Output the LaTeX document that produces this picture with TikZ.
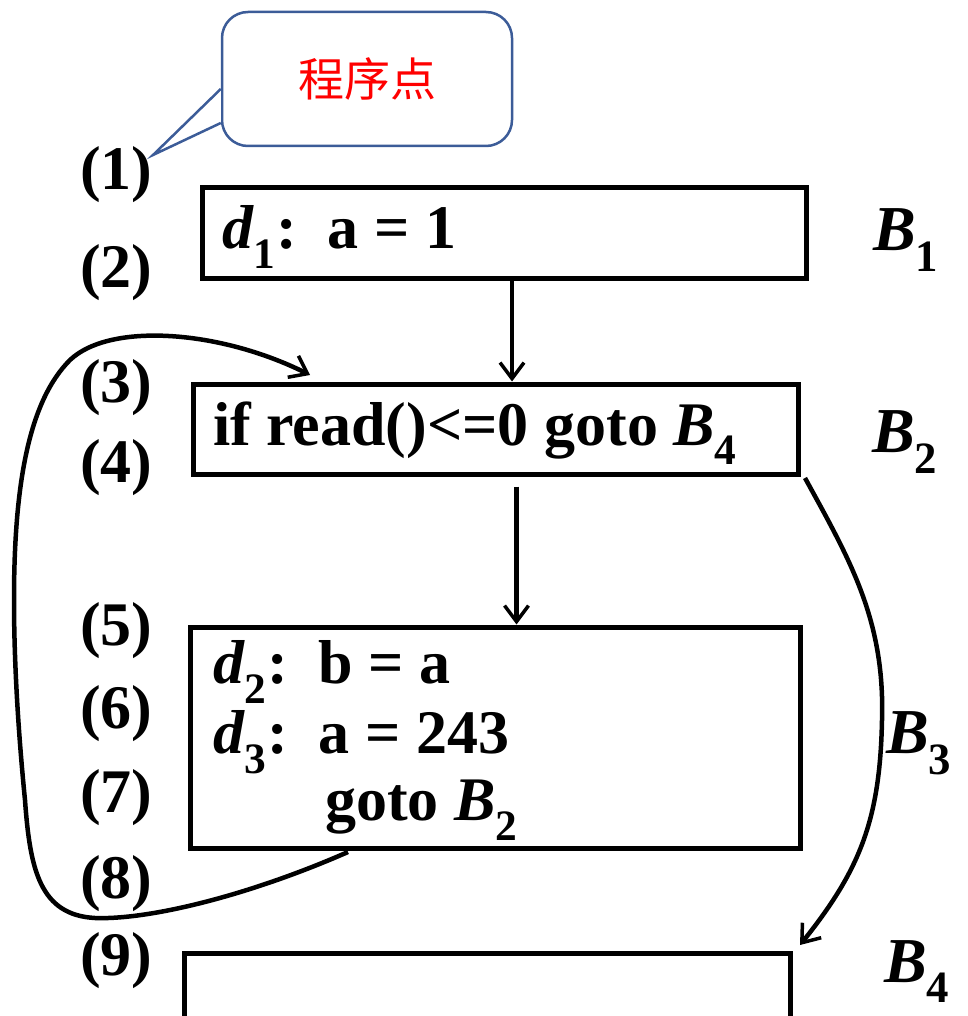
\documentclass[tikz,border=0pt]{standalone}
\usepackage{fontspec}
\setmainfont{Liberation Serif}
\newfontfamily\cjk{Noto Sans CJK SC}
\usetikzlibrary{arrows.meta}
\definecolor{calloutblue}{RGB}{60,92,152}
\tikzset{
  blk/.style={draw, line width=5pt, inner sep=0pt},
  lbl/.style={anchor=base west, inner sep=0pt},
  blkname/.style={anchor=base west, inner sep=0pt, font=\fontsize{64}{72}\selectfont\bfseries\itshape},
  flow/.style={line width=4.5pt, -{Straight Barb[length=16pt,width=24pt,line width=3.5pt]}}
}
\begin{document}
\begin{tikzpicture}[x=1pt, y=-1pt, font=\fontsize{62}{70}\selectfont\bfseries]
  \useasboundingbox (0,0) rectangle (967,1016);
  % basic blocks
  \node[blk, minimum width=604pt, minimum height=90pt] (b1) at (504,233) {};
  \node[blk, minimum width=605pt, minimum height=90pt] (b2) at (495.5,429) {};
  \node[blk, minimum width=610pt, minimum height=221pt] (b3) at (495,737.5) {};
  \node[blk, minimum width=606pt, minimum height=110pt] (b4) at (487,1008) {};
  % statements
  \node[lbl] (s1) at (222,248) {\textit{d}\textsubscript{\upshape 1}:\ \ a = 1};
  \node[lbl] (s2) at (213,445) {if read()<=0 goto \textit{B}\textsubscript{4}};
  \node[lbl] (s3) at (213,683) {\textit{d}\textsubscript{\upshape 2}:\ \ b = a};
  \node[lbl] (s4) at (213,753) {\textit{d}\textsubscript{\upshape 3}:\ \ a = 243};
  \node[lbl] (s5) at (325,820) {goto \textit{B}\textsubscript{2}};
  % program points
  \foreach \i/\y in {1/190, 2/287, 3/402, 4/482, 5/645, 6/728, 7/812, 8/898, 9/975}
    \node[lbl] (p\i) at (80,\y) {(\i)};
  % block names
  \node[blkname] (n1) at (873,250) {B\textsubscript{\upshape 1}};
  \node[blkname] (n2) at (872,452) {B\textsubscript{\upshape 2}};
  \node[blkname] (n3) at (886,753) {B\textsubscript{\upshape 3}};
  \node[blkname] (n4) at (884,982) {B\textsubscript{\upshape 4}};
  % callout
  \node[draw=calloutblue, line width=2.5pt, rounded corners=26pt, fill=white,
        minimum width=290pt, minimum height=134pt,
        font=\cjk\fontsize{46}{52}\selectfont, text=red] (pp) at (367,79) {程序点};
  \coordinate (tip) at (153,155);
  \fill[white] ([yshift=-10pt]pp.west) -- (tip) -- ([yshift=-44pt]pp.west) -- cycle;
  \draw[calloutblue, line width=2.5pt, line join=miter] ([yshift=-10pt]pp.west) -- (tip) -- ([yshift=-44pt]pp.west);
  % edges
  \draw[flow] ([xshift=8pt]b1.south) -- ([xshift=8pt]b1.south |- b2.north);
  \draw[flow] ([xshift=21pt,yshift=-10pt]b2.south) -- ([xshift=21pt]b2.south |- b3.north);
  \coordinate (back) at (348,852);
  \coordinate (head) at (310,375);
  \draw[flow] (back) .. controls (250,895) and (150,920) .. (95,918)
    .. controls (40,915) and (30,870) .. (25,800)
    .. controls (18,730) and (14,660) .. (14,600)
    .. controls (14,480) and (30,400) .. (70,360)
    .. controls (110,322) and (220,330) .. (head);
  \coordinate (jump) at (805,478);
  \coordinate (land) at (800,945);
  \draw[flow] (jump) .. controls (850,560) and (885,620) .. (882,720)
    .. controls (880,820) and (860,870) .. (land);
\end{tikzpicture}
\end{document}
